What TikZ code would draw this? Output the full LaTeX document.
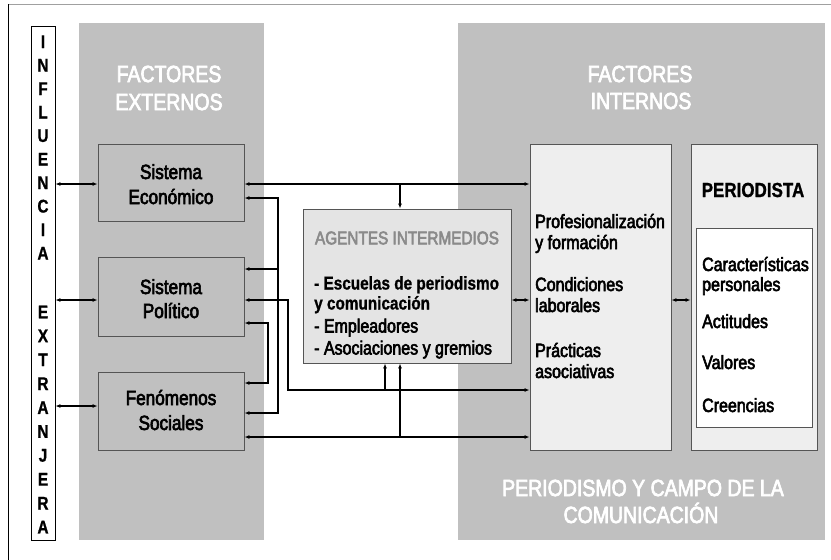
\documentclass[tikz,border=0pt]{standalone}
\usepackage{fontspec}
\setmainfont{Liberation Sans}[FakeStretch=0.833,UprightFeatures={FakeBold=3},BoldFeatures={FakeBold=1}]
\usetikzlibrary{arrows.meta}
\definecolor{panelgray}{HTML}{C0C0C0}
\definecolor{boxline}{HTML}{555555}
\definecolor{agfill}{HTML}{E4E4E4}
\definecolor{lightfill}{HTML}{EEEEEE}
\definecolor{titlegray}{HTML}{8A8A8A}
\definecolor{framegray}{HTML}{A0A0A0}
\begin{document}
\begin{tikzpicture}[x=1pt,y=-1pt,
  >={Latex[length=5pt,width=4pt]},
  conn/.style={draw=black,line width=1.2pt},
  extbox/.style={draw=boxline,line width=0.9pt,fill=panelgray,inner sep=0pt,minimum width=146,rectangle},
  headtxt/.style={text=white,inner sep=0pt,font=\fontsize{23.4}{28}\selectfont},
  letter/.style={inner sep=0pt,font=\fontsize{18.4}{20}\selectfont\bfseries},
  bodytxt/.style={inner sep=0pt,font=\fontsize{19.2}{22}\selectfont,anchor=base west},
  boldtxt/.style={inner sep=0pt,font=\fontsize{18.4}{22}\selectfont\bfseries,anchor=base west},
  exttxt/.style={inner sep=0pt,font=\fontsize{20.6}{24}\selectfont,anchor=base}
]
\useasboundingbox (0,0) rectangle (831,560);
\fill[white] (0,0) rectangle (831,560);
\draw[framegray,line width=1pt] (8,4) -- (831,4);
\draw[black,line width=1pt] (8,4) -- (8,560);

% panels
\fill[panelgray] (79,23) rectangle (264,540);
\fill[panelgray] (458,23) rectangle (825,540);

% influencia extranjera
\node[draw=black,line width=0.8pt,fill=white,inner sep=0pt,minimum width=24,minimum height=514] (infl) at (43,283) {};
\foreach \l [count=\i from 0] in {I,N,F,L,U,E,N,C,I,A}
  \node[letter] (inflA\i) at (43,{41.7+23.5*\i}) {\l};
\foreach \l [count=\i from 0] in {E,X,T,R,A,N,J,E,R,A}
  \node[letter] (inflB\i) at (43,{312+23.9*\i}) {\l};

% headings
\node[headtxt] (fe1) at (169,74) {FACTORES};
\node[headtxt] (fe2) at (169,102) {EXTERNOS};
\node[headtxt] (fi1) at (640,74) {FACTORES};
\node[headtxt] (fi2) at (641,101) {INTERNOS};
\node[headtxt] (pc1) at (643,488) {PERIODISMO Y CAMPO DE LA};
\node[headtxt,anchor=base] (pc2) at (641,523) {COMUNICACIÓN};

% external boxes
\node[extbox,minimum height=77] (eco) at (171,182.5) {};
\node[exttxt] (eco1) at (171,179) {Sistema};
\node[exttxt] (eco2) at (171,204) {Económico};
\node[extbox,minimum height=79] (pol) at (171,296.5) {};
\node[exttxt] (pol1) at (171,294) {Sistema};
\node[exttxt] (pol2) at (171,318) {Político};
\node[extbox,minimum height=78] (fen) at (171,411) {};
\node[exttxt] (fen1) at (171,405) {Fenómenos};
\node[exttxt] (fen2) at (171,430) {Sociales};

% agentes intermedios
\node[draw=boxline,line width=0.9pt,fill=agfill,inner sep=0pt,minimum width=208,minimum height=154] (ag) at (407,286) {};
\node[inner sep=0pt,text=titlegray,font=\fontsize{18.4}{22}\selectfont] (agt) at (407,238) {AGENTES INTERMEDIOS};
\node[boldtxt] (ag1) at (314,289.5) {- Escuelas de periodismo};
\node[boldtxt] (ag2) at (314,309.5) {y comunicación};
\node[bodytxt] (ag3) at (314,332.5) {- Empleadores};
\node[bodytxt] (ag4) at (314,354.5) {- Asociaciones y gremios};

% profesionalizacion
\node[draw=boxline,line width=0.9pt,fill=lightfill,inner sep=0pt,minimum width=141,minimum height=306] (prof) at (600.5,297) {};
\node[bodytxt] (pr1) at (535,228) {Profesionalización};
\node[bodytxt] (pr2) at (535,249) {y formación};
\node[bodytxt] (pr3) at (535,291) {Condiciones};
\node[bodytxt] (pr4) at (535,312) {laborales};
\node[bodytxt] (pr5) at (535,357) {Prácticas};
\node[bodytxt] (pr6) at (535,378) {asociativas};

% periodista
\node[draw=boxline,line width=0.9pt,fill=lightfill,inner sep=0pt,minimum width=126,minimum height=306] (per) at (754,297) {};
\node[inner sep=0pt,font=\fontsize{20.4}{24}\selectfont\bfseries] (pert) at (753,190) {PERIODISTA};
\node[draw=boxline,line width=0.9pt,fill=white,inner sep=0pt,minimum width=116,minimum height=199] (inner) at (754,327.5) {};
\node[bodytxt] (in1) at (702,271) {Características};
\node[bodytxt] (in2) at (702,291) {personales};
\node[bodytxt] (in3) at (702,328) {Actitudes};
\node[bodytxt] (in4) at (702,369) {Valores};
\node[bodytxt] (in5) at (702,412) {Creencias};

% helper levels
\coordinate (yA) at (0,184);
\coordinate (yB) at (0,198);
\coordinate (yC) at (0,269);
\coordinate (yD) at (0,300);
\coordinate (yE) at (0,323);
\coordinate (yF) at (0,383);
\coordinate (yG) at (0,390);
\coordinate (yH) at (0,413);
\coordinate (yI) at (0,437);
\coordinate (yJ) at (0,406);
\coordinate (xB) at (278,0);
\coordinate (xC) at (288,0);
\coordinate (xD) at (268,0);
\coordinate (xP) at (385,0);
\coordinate (xQ) at (400,0);

% connectors
\draw[conn,<->] (infl.east|-yA) -- (eco.west|-yA);
\draw[conn,<->] (infl.east|-yD) -- (pol.west|-yD);
\draw[conn,<->] (infl.east|-yJ) -- (fen.west|-yJ);
\draw[conn,<->] (eco.east|-yA) -- (prof.west|-yA);
\draw[conn,->] (xQ|-yA) -- (ag.north-|xQ);
\draw[conn,<->] (eco.east|-yB) -- (xB|-yB) -- (xB|-yH) -- (fen.east|-yH);
\draw[conn,->] (xB|-yC) -- (pol.east|-yC);
\draw[conn,<->] (pol.east|-yD) -- (xC|-yD) -- (xC|-yG) -- (prof.west|-yG);
\draw[conn,->] (xP|-yG) -- (ag.south-|xP);
\draw[conn,<->] (pol.east|-yE) -- (xD|-yE) -- (xD|-yF) -- (fen.east|-yF);
\draw[conn,<->] (fen.east|-yI) -- (prof.west|-yI);
\draw[conn,->] (xQ|-yI) -- (ag.south-|xQ);
\draw[conn,<->] (ag.east|-yD) -- (prof.west|-yD);
\draw[conn,<->] (prof.east|-yD) -- (per.west|-yD);
\end{tikzpicture}
\end{document}
